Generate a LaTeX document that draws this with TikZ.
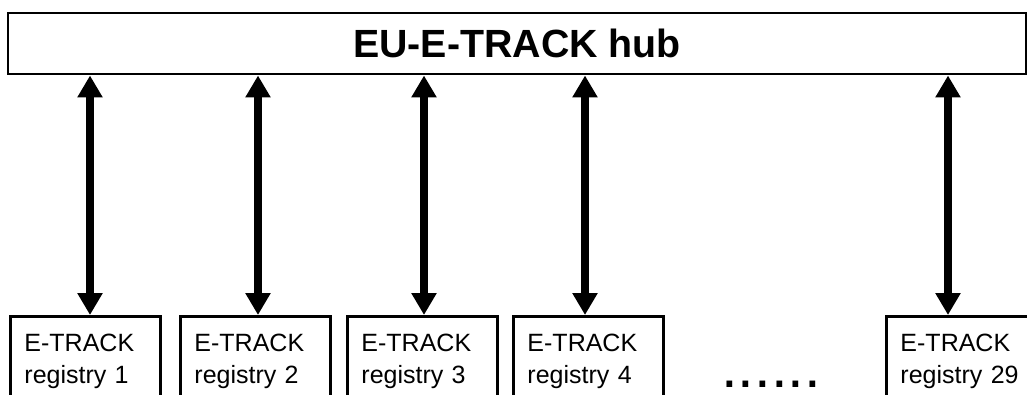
\documentclass[tikz,border=0pt]{standalone}
\usepackage{fontspec}
\setmainfont{Liberation Sans}
\usetikzlibrary{arrows.meta}

\begin{document}
\begin{tikzpicture}[x=0.75pt, y=-0.75pt,
  hubbox/.style={draw, line width=2.2pt, minimum width=763.5pt, minimum height=45.75pt,
    inner sep=0pt, font=\fontsize{29.5}{34}\selectfont\bfseries},
  regbox/.style={draw, line width=2.2pt, anchor=north west, text width=91.5pt, align=left,
    inner xsep=10.5pt, inner ysep=12.8pt, font=\fontsize{18.75}{24}\selectfont},
  link/.style={{Triangle[width=18pt,length=16.5pt]}-{Triangle[width=18pt,length=16.5pt]},
    line width=6.4pt}]
\clip (0,0) rectangle (1027,394);
% ---------- the hub ----------
\node[hubbox] (hub) at (517,43.5) {EU-E-TRACK hub};
% ---------- the registries and their links ----------
\foreach \n/\x/\ax in {1/9/90, 2/179/258, 3/346/424, 4/512/585, 29/885/948} {
  \coordinate (a\n) at (\ax,0);
  \node[regbox] (reg\n) at (\x,315) {E-TRACK\\ registry \n};
  \draw[link] (hub.south -| a\n) -- (reg\n.north -| a\n);
}
% the ones left out
\node[anchor=base west, inner sep=0pt, font=\fontsize{45}{50}\selectfont] (dots) at (721,387) {......};
\end{tikzpicture}
\end{document}
